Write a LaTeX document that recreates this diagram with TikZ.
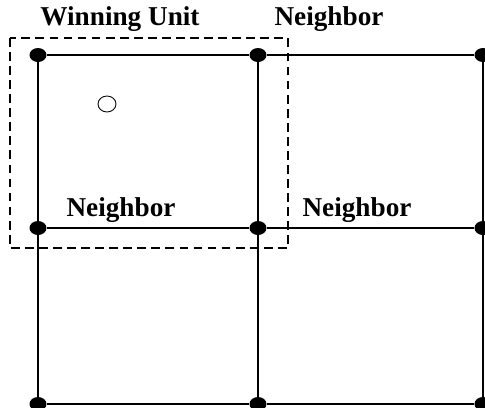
\documentclass[tikz,border=0pt]{standalone}
\usepackage{fontspec}
\setmainfont{Liberation Serif}
\usetikzlibrary{shapes.geometric}
\begin{document}
\begin{tikzpicture}[x=0.02cm,y=-0.02cm,
		unit/.style={ellipse, fill=black, inner sep=0pt, minimum width=0.34cm, minimum height=0.28cm},
		gridline/.style={black, line width=1pt},
		tag/.style={font=\bfseries\fontsize{15.5}{18}\selectfont, anchor=base}]
		\useasboundingbox (0,0) rectangle (485,407);
		
		% 网格上的节点 (3 x 3)
		\node[unit] (a1) at (38,55) {};
		\node[unit] (a2) at (258,55) {};
		\node[unit] (a3) at (483,55) {};
		\node[unit] (b1) at (38,228) {};
		\node[unit] (b2) at (258,228) {};
		\node[unit] (b3) at (483,228) {};
		\node[unit] (c1) at (38,404) {};
		\node[unit] (c2) at (258,404) {};
		\node[unit] (c3) at (483,404) {};
		
		% 横线
		\draw[gridline] (a1) -- (a2) -- (a3);
		\draw[gridline] (b1) -- (b2) -- (b3);
		\draw[gridline] (c1) -- (c2) -- (c3);
		% 竖线
		\draw[gridline] (a1) -- (b1) -- (c1);
		\draw[gridline] (a2) -- (b2) -- (c2);
		\draw[gridline] (a3) -- (b3) -- (c3);
		
		% 获胜单元的虚线框
		\draw[black, line width=0.6pt, dash pattern=on 5pt off 3pt] (10,38) rectangle (288,248);
		
		% 输入向量 (空心圆)
		\node[ellipse, draw, line width=0.5pt, minimum width=0.36cm, minimum height=0.32cm, inner sep=0pt] (x) at (107,104) {};
		
		% 标签
		\node[tag] (win) at (120,25) {Winning Unit};
		\node[tag] (nbtop) at (329,25) {Neighbor};
		\node[tag] (nbleft) at (121,216) {Neighbor};
		\node[tag] (nbright) at (357,216) {Neighbor};
	
	\end{tikzpicture}
\end{document}
